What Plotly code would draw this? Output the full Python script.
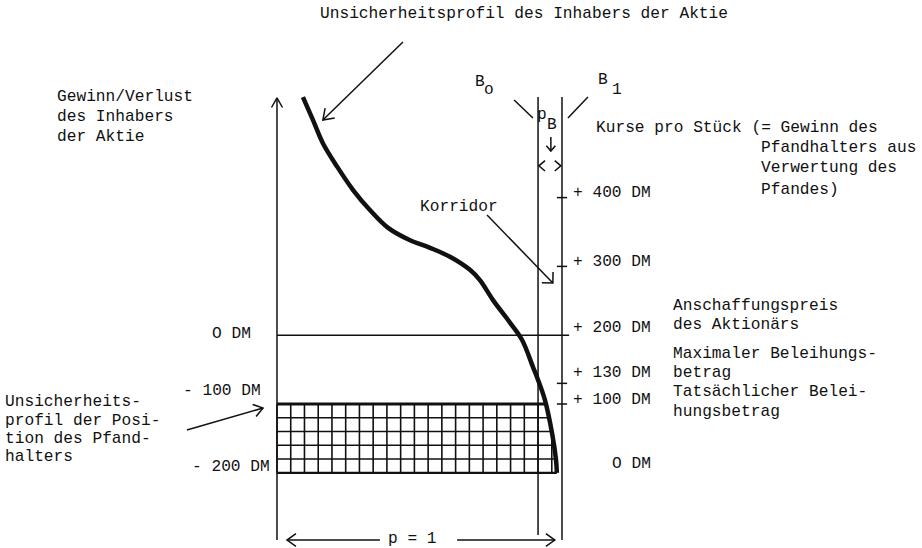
import numpy as np
import plotly.graph_objects as go

# ---------------- data (schematic units: p = probability mass, DM = price per share) ----------------
curve_p = [0.091, 0.126, 0.161, 0.211, 0.267, 0.326, 0.390, 0.467, 0.537, 0.607, 0.677,
           0.712, 0.758, 0.818, 0.860, 0.898, 0.916, 0.940, 0.965, 0.979, 0.982]
curve_dm = [546, 513, 479, 445, 411, 382, 356, 338, 327, 314, 295,
            280, 251, 218, 193, 154, 135, 106, 58, 19, 0]

p_B = 0.084                      # width of the corridor between B0 and B1
purchase_price = 200             # Anschaffungspreis (0 DM for the shareholder)
loan_max = 130                   # maximaler Beleihungsbetrag
loan_actual = 100                # tatsächlicher Beleihungsbetrag
right_ticks = [400, 300, 200, 130, 100, 0]
right_tick_labels = ["+ 400 DM", "+ 300 DM", "+ 200 DM", "+ 130 DM", "+ 100 DM", "O DM"]
left_tick_labels = ["O DM", "- 100 DM", "- 200 DM"]
grid_rows = [0, 20, 40, 60, 80, 100]
grid_cols = 19

# ---------------- coordinate frame ----------------
W, H = 922, 548
XR = [-0.9719, 2.2632]
YR = [-109.3, 687.2]
SX = W / (XR[1] - XR[0])   # px per unit p
SY = H / (YR[1] - YR[0])   # px per DM

INK = "#111111"
FONT = dict(family="Liberation Mono, Courier New, monospace", size=16.2, color="#111111")

B0 = 1 - p_B
B1 = 1.0

thin_x, thin_y = [], []
def seg(xs, ys, bx=thin_x, by=thin_y):
    bx.extend(list(xs) + [None]); by.extend(list(ys) + [None])

def head(x0, y0, x1, y1, L=10, ang=35):
    dx = (x1 - x0) * SX; dy = -(y1 - y0) * SY
    n = np.hypot(dx, dy); ux, uy = dx / n, dy / n
    pts = []
    for s in (1, -1):
        a = np.radians(ang * s)
        rx = -ux * np.cos(a) + uy * np.sin(a)
        ry = -ux * np.sin(a) - uy * np.cos(a)
        pts.append((x1 + L * rx / SX, y1 - L * ry / SY))
    seg([pts[0][0], x1, pts[1][0]], [pts[0][1], y1, pts[1][1]])

def arrow(x0, y0, x1, y1, L=10, ang=35):
    seg([x0, x1], [y0, y1])
    head(x0, y0, x1, y1, L, ang)

# left axis with arrow
arrow(0, -97.7, 0, 544.8, L=11, ang=30)
# corridor boundaries B0 and B1
seg([B0, B0], [-90.4, 546.2])
seg([B1, B1], [-97.7, 546.2])
# purchase-price line
seg([0, 1.025], [purchase_price, purchase_price])
# ticks on B1
for t in [400, 300, loan_max, loan_actual]:
    seg([0.982, 1.018], [t, t])
# slanted pointers to B0 / B1
seg([0.832, 0.898], [541.9, 515.7])
seg([1.091, 1.021], [546.2, 515.7])
# p_B pointer and corridor width marks
arrow(0.961, 488.1, 0.961, 467.7, L=7, ang=40)
head(0.96, 446.2, 0.919, 446.2, L=8, ang=40)
head(0.955, 446.2, 0.996, 446.2, L=8, ang=40)
# annotation arrows
arrow(0.442, 626.2, 0.161, 512.8, L=12, ang=35)
arrow(-0.316, 62.2, -0.049, 94.2, L=11, ang=35)
arrow(0.737, 374.7, 0.968, 275.9, L=11, ang=45)
# p = 1 arrows
arrow(0.361, -97.7, 0.035, -97.7, L=11, ang=35)
arrow(0.632, -97.7, 0.975, -97.7, L=11, ang=35)

# grid (Unsicherheitsprofil des Pfandhalters), clipped by the curve
cp = np.array(curve_p); cv = np.array(curve_dm)
def v_at(p):
    return float(np.interp(p, cp, cv))
def p_at(v):
    return float(np.interp(v, cv[::-1], cp[::-1]))
grid_x, grid_y = [], []
cell = B0 / grid_cols
k = 0
while k * cell < cp[-1]:
    pk = k * cell
    seg([pk, pk], [0, min(loan_actual, v_at(pk))], grid_x, grid_y)
    k += 1
for r in grid_rows[1:-1]:
    seg([0, p_at(r)], [r, r], grid_x, grid_y)

fig = go.Figure()
fig.add_trace(go.Scatter(x=grid_x, y=grid_y, mode="lines", line=dict(color=INK, width=1.6), hoverinfo="skip"))
fig.add_trace(go.Scatter(x=thin_x, y=thin_y, mode="lines", line=dict(color=INK, width=1.5), hoverinfo="skip"))
fig.add_trace(go.Scatter(x=[0, p_at(0)], y=[0, 0], mode="lines", line=dict(color=INK, width=2.2), hoverinfo="skip"))
fig.add_trace(go.Scatter(x=[0, p_at(loan_actual)], y=[loan_actual, loan_actual], mode="lines",
                         line=dict(color=INK, width=3.2), hoverinfo="skip"))
fig.add_trace(go.Scatter(x=curve_p, y=curve_dm, mode="lines",
                         line=dict(color=INK, width=4.5, shape="spline", smoothing=1.0), hoverinfo="skip"))

ann = []
def txt(s, x, y, xa="left"):
    ann.append(dict(text=s, x=x, y=y, xref="x", yref="y", xanchor=xa, yanchor="middle",
                    showarrow=False, font=FONT))

txt("Unsicherheitsprofil des Inhabers der Aktie", 0.865, 666.9, "center")
for s, y in zip(["Gewinn/Verlust", "des Inhabers", "der Aktie"], [546.2, 517.2, 488.1]):
    txt(s, -0.779, y)
txt("B", 0.712, 568.0, "center"); txt("o", 0.744, 556.4, "center")
txt("B", 1.144, 570.9, "center"); txt("1", 1.193, 556.4, "center")
txt("p", 0.930, 520.1, "center"); txt("B", 0.965, 505.5, "center")
txt("Kurse pro Stück (= Gewinn des", 1.112, 501.2)
for s, y in zip(["Pfandhalters aus", "Verwertung des", "Pfandes)"], [472.1, 443.0, 411.0]):
    txt(s, 1.691, y)
txt("Korridor", 0.495, 386.3)
for s, y in zip(right_tick_labels, [406.7, 306.4, 210.5, 145.1, 105.8, 12.8]):
    txt(s, 1.319, y, "right")
for s, y in zip(["Anschaffungspreis", "des Aktionärs", "Maximaler Beleihungs-", "betrag",
                 "Tatsächlicher Belei-", "hungsbetrag"], [242.4, 214.8, 172.7, 145.1, 117.4, 88.5]):
    txt(s, 1.382, y)
for s, x, y in zip(left_tick_labels, [-0.084, -0.049, -0.0175], [201.7, 118.9, 8.4]):
    txt(s, x, y, "right")
for s, y in zip(["Unsicherheits-", "profil der Posi-", "tion des Pfand-", "halters"], [102.9, 75.3, 49.1, 23.0]):
    txt(s, -0.961, y)
txt("p = 1", 0.474, -96.0, "center")

fig.update_layout(
    width=W, height=H, margin=dict(l=0, r=0, t=0, b=0),
    paper_bgcolor="white", plot_bgcolor="white", showlegend=False,
    xaxis=dict(range=XR, visible=False, fixedrange=True),
    yaxis=dict(range=YR, visible=False, fixedrange=True),
    annotations=ann,
)
fig.write_html("out.html", config={"displayModeBar": False, "staticPlot": True},
               post_script="document.body.style.margin='0';document.body.style.overflow='hidden';")
